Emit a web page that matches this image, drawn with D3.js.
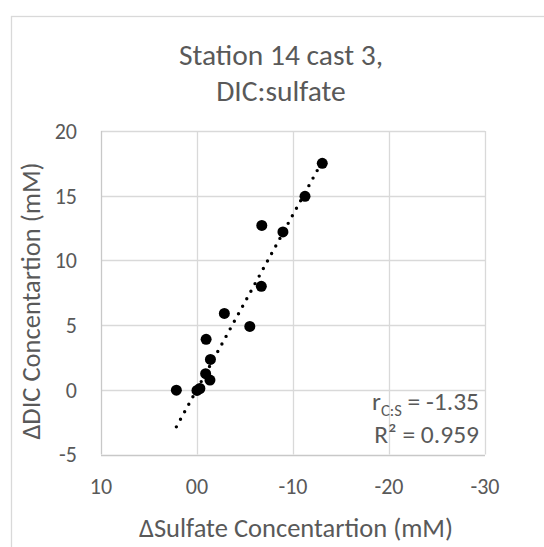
<!DOCTYPE html>
<html>
<head>
<meta charset="utf-8">
<script src="https://cdn.jsdelivr.net/npm/d3@7"></script>
<style>
  body { margin: 0; background: #fff; }
  svg { display: block; font-family: Calibri, Carlito, Lato, sans-serif; }
</style>
</head>
<body>
<svg id="chart" width="544" height="547"></svg>
<script>
// delta sulfate (mM) and delta DIC (mM)
var sulfate = [-13.05, -11.25, -6.75, -8.95, -6.7, -2.85, -5.5, -0.95, -1.4, -0.9, -1.35, 2.15, 0.0, -0.3];
var dic     = [17.5, 14.95, 12.7, 12.2, 8.0, 5.9, 4.9, 3.9, 2.35, 1.25, 0.75, -0.03, -0.05, 0.1];

var trendSlope = -1.35;
var trendIntercept = 0.04;

var xTicks = [10, 0, -10, -20, -30];
var xTickLabels = ["10", "00", "-10", "-20", "-30"];
var yTicks = [-5, 0, 5, 10, 15, 20];

var titleLines = ["Station 14 cast 3,", "DIC:sulfate"];
var xTitle = "\u0394Sulfate Concentartion (mM)";
var yTitle = "\u0394DIC Concentartion (mM)";
var slopeText = "-1.35";
var r2Text = "0.959";

var textColor = "#595959";

var svg = d3.select("#chart");

// chart area border (runs off the right/bottom of the picture)
svg.append("rect")
  .attr("x", 11.5).attr("y", 16.5)
  .attr("width", 600).attr("height", 600)
  .attr("fill", "#fff")
  .attr("stroke", "#d9d9d9")
  .attr("stroke-width", 1.3);

var plotL = 101, plotR = 485, plotT = 131, plotB = 454.5;

var x = d3.scaleLinear().domain([10, -30]).range([plotL, plotR]);
var y = d3.scaleLinear().domain([-5, 20]).range([plotB, plotT]);

// gridlines
svg.append("g").selectAll("line")
  .data(yTicks.filter(function(d) { return d != -5; }))
  .enter().append("line")
  .attr("x1", plotL).attr("x2", plotR)
  .attr("y1", function(d) { return Math.round(y(d)) + 0.5; })
  .attr("y2", function(d) { return Math.round(y(d)) + 0.5; })
  .attr("stroke", "#d9d9d9").attr("stroke-width", 1.3);

svg.append("g").selectAll("line")
  .data(xTicks.filter(function(d) { return d != 10; }))
  .enter().append("line")
  .attr("y1", plotT).attr("y2", plotB)
  .attr("x1", function(d) { return Math.round(x(d)) + 0.5; })
  .attr("x2", function(d) { return Math.round(x(d)) + 0.5; })
  .attr("stroke", "#d9d9d9").attr("stroke-width", 1.3);

// axis lines
svg.append("line")
  .attr("x1", plotL + 0.5).attr("x2", plotL + 0.5)
  .attr("y1", plotT).attr("y2", plotB)
  .attr("stroke", "#c8c8c8").attr("stroke-width", 1.3);
svg.append("line")
  .attr("x1", plotL).attr("x2", plotR)
  .attr("y1", Math.round(plotB) + 0.5).attr("y2", Math.round(plotB) + 0.5)
  .attr("stroke", "#c8c8c8").attr("stroke-width", 1.3);

// tick labels
svg.append("g").selectAll("text")
  .data(yTicks)
  .enter().append("text")
  .attr("x", 77)
  .attr("y", function(d) { return y(d); })
  .attr("dy", "0.36em")
  .attr("text-anchor", "end")
  .attr("fill", textColor)
  .style("font-size", "22px")
  .text(function(d) { return d; });

svg.append("g").selectAll("text")
  .data(xTicks)
  .enter().append("text")
  .attr("x", function(d) { return x(d); })
  .attr("y", 494)
  .attr("text-anchor", "middle")
  .attr("fill", textColor)
  .style("font-size", "22px")
  .text(function(d, i) { return xTickLabels[i]; });

// titles
svg.append("g").selectAll("text")
  .data(titleLines)
  .enter().append("text")
  .attr("x", 281)
  .attr("y", function(d, i) { return 65 + i * 36; })
  .attr("text-anchor", "middle")
  .attr("fill", textColor)
  .style("font-size", "29.5px")
  .text(function(d) { return d; });

svg.append("text")
  .attr("x", 296).attr("y", 537)
  .attr("text-anchor", "middle")
  .attr("fill", textColor)
  .style("font-size", "26.5px")
  .text(xTitle);

svg.append("text")
  .attr("transform", "translate(40,301) rotate(-90)")
  .attr("text-anchor", "middle")
  .attr("fill", textColor)
  .style("font-size", "26.5px")
  .text(yTitle);

// linear trendline over the data range
var pts = sulfate.map(function(d, i) { return [d, dic[i]]; });
var xr = d3.extent(sulfate);
var trend = xr.map(function(v) { return [v, trendIntercept + trendSlope * v]; }).reverse();

svg.append("path")
  .datum(trend)
  .attr("d", d3.line().x(function(d) { return x(d[0]); }).y(function(d) { return y(d[1]); }))
  .attr("fill", "none")
  .attr("stroke", "#000")
  .attr("stroke-width", 3.4)
  .attr("stroke-linecap", "round")
  .attr("stroke-dasharray", "0 8.6");

// points
svg.append("g").selectAll("circle")
  .data(pts)
  .enter().append("circle")
  .attr("cx", function(d) { return x(d[0]); })
  .attr("cy", function(d) { return y(d[1]); })
  .attr("r", 5.5)
  .attr("fill", "#000");

// regression annotation
var ann = svg.append("g").attr("fill", textColor).style("font-size", "25.5px");
var t1 = ann.append("text").attr("x", 479).attr("y", 410).attr("text-anchor", "end");
t1.append("tspan").text("r");
t1.append("tspan").attr("dy", 6).style("font-size", "16.5px").text("C:S");
t1.append("tspan").attr("dy", -6).text(" = " + slopeText);
ann.append("text").attr("x", 479).attr("y", 443).attr("text-anchor", "end")
  .text("R\u00b2 = " + r2Text);
</script>
</body>
</html>
